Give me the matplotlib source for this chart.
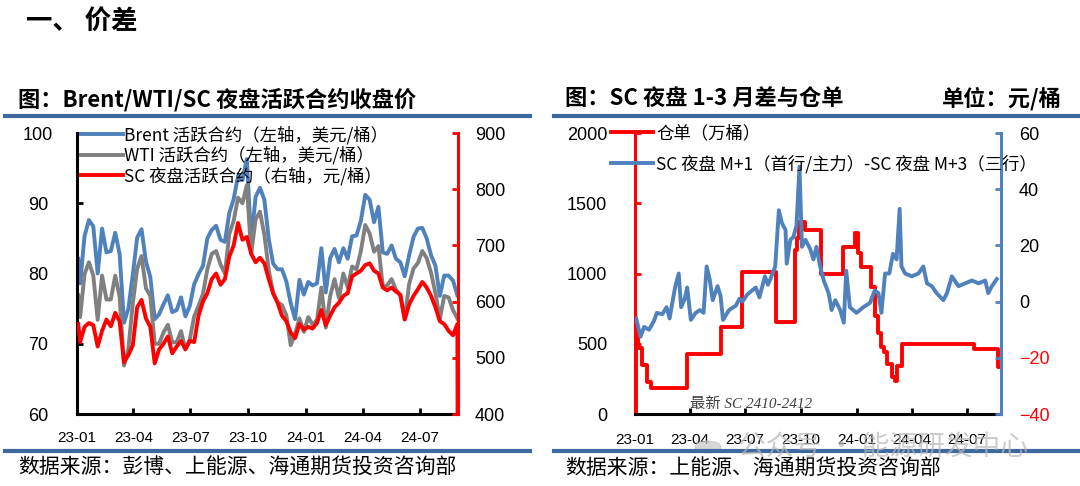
import matplotlib
matplotlib.use("Agg")
import matplotlib.pyplot as plt
import matplotlib.dates as mdates
from matplotlib.lines import Line2D
import pandas as pd

plt.rcParams['font.family'] = ['Noto Sans CJK SC', 'DejaVu Sans']

# ---------------- left chart: weekly closes ----------------
week_dates = pd.to_datetime(['2023-01-03']).append(
    pd.date_range('2023-01-06', '2024-08-30', freq='W-FRI'))

brent = [82.1,
         78.6, 85.3, 87.6, 86.7, 80.0, 86.4, 83.0, 83.2, 85.8, 82.8,
         73.0, 75.0, 79.8, 85.1, 86.3, 81.7, 79.5, 73.5, 74.2, 75.6,
         76.9, 74.5, 74.8, 76.6, 73.9, 75.4, 78.5, 79.9, 81.1, 85.0,
         86.2, 86.8, 84.8, 84.5, 88.6, 90.6, 93.9, 93.3, 96.3, 84.6,
         90.9, 92.2, 90.5, 84.9, 81.4, 80.6, 80.6, 78.9, 75.8, 73.5,
         79.1, 77.0, 78.8, 78.3, 78.6, 83.6, 77.3, 82.2, 83.5, 81.6,
         83.6, 82.1, 85.3, 85.4, 87.5, 91.2, 90.5, 87.3, 89.5, 83.0,
         82.8, 84.0, 82.1, 81.6, 79.6, 82.6, 85.2, 86.4, 86.5, 85.0,
         82.6, 81.1, 76.8, 79.7, 79.7, 79.0, 76.9]

wti = [76.9,
       73.8, 79.9, 81.6, 79.7, 73.4, 79.7, 76.3, 76.3, 79.7, 76.7,
       66.9, 69.3, 75.7, 80.7, 82.5, 77.9, 76.8, 70.0, 70.0, 71.6,
       72.7, 70.2, 70.2, 71.8, 69.2, 70.6, 73.9, 75.4, 77.1, 80.6,
       82.8, 83.2, 81.3, 80.0, 85.6, 87.5, 90.8, 90.0, 92.6, 82.8,
       87.7, 88.8, 85.5, 80.5, 77.2, 75.9, 75.5, 74.1, 69.8, 71.4,
       73.6, 71.7, 73.8, 72.7, 73.4, 78.0, 72.3, 76.8, 79.2, 76.5,
       80.0, 78.0, 81.0, 80.6, 83.2, 86.9, 85.7, 83.1, 83.9, 78.1,
       78.3, 79.2, 77.7, 76.9, 73.5, 78.5, 80.7, 81.5, 83.2, 82.2,
       80.1, 77.2, 73.5, 76.8, 76.6, 74.8, 73.6]

sc = [560,
      528, 555, 562, 558, 520, 548, 568, 556, 580, 565,
      492, 505, 522, 590, 603, 570, 555, 490, 515, 525,
      538, 508, 520, 530, 515, 530, 528, 575, 600, 615,
      640, 650, 630, 640, 680, 700, 740, 710, 715, 685,
      670, 678, 668, 640, 615, 598, 575, 565, 545, 535,
      560, 550, 555, 552, 562, 585, 558, 575, 590, 598,
      610, 615, 645, 650, 655, 665, 668, 655, 650, 625,
      620, 625, 618, 612, 568, 595, 610, 622, 635, 625,
      610, 590, 565, 560, 548, 540, 560]
sc_tail_date = '2024-08-31'
sc_tail_value = 0

# ---------------- right chart ----------------
spread_dates = pd.to_datetime([
    '2023-01-03', '2023-01-10', '2023-01-16', '2023-01-24', '2023-02-01', '2023-02-06',
    '2023-02-15', '2023-02-22', '2023-02-27', '2023-03-03', '2023-03-08', '2023-03-14',
    '2023-03-18', '2023-03-24', '2023-03-28', '2023-04-03', '2023-04-11', '2023-04-18',
    '2023-04-24', '2023-04-29', '2023-05-04', '2023-05-09', '2023-05-17', '2023-05-22',
    '2023-05-26', '2023-06-05', '2023-06-12', '2023-06-16', '2023-06-22', '2023-06-27',
    '2023-07-05', '2023-07-13', '2023-07-19', '2023-07-25', '2023-08-03', '2023-08-08',
    '2023-08-12', '2023-08-20', '2023-08-26', '2023-08-31', '2023-09-06', '2023-09-08',
    '2023-09-14', '2023-09-19', '2023-09-24', '2023-09-29', '2023-10-03', '2023-10-09',
    '2023-10-17', '2023-10-22', '2023-10-27', '2023-11-02', '2023-11-08', '2023-11-16',
    '2023-11-21', '2023-11-27', '2023-12-05', '2023-12-11', '2023-12-15', '2023-12-21',
    '2024-01-01', '2024-01-12', '2024-01-23', '2024-01-31', '2024-02-06', '2024-02-11',
    '2024-02-17', '2024-02-24', '2024-03-01', '2024-03-07', '2024-03-12', '2024-03-15',
    '2024-03-21', '2024-04-01', '2024-04-12', '2024-04-20', '2024-04-26', '2024-05-04',
    '2024-05-12', '2024-05-23', '2024-05-29', '2024-06-06', '2024-06-17', '2024-06-28',
    '2024-07-09', '2024-07-20', '2024-07-31', '2024-08-05', '2024-08-11', '2024-08-19'])
spread = [-6, -12.5, -9, -10, -7, -4,
          -4.5, -2, -6, -1, 5, 10,
          -2, 1, 5, -6.5, -4, -3,
          -4, 12.5, 8, 0.5, 5.5, 2,
          -6.5, -3, -2, -1.5, 1, 0,
          2.5, 4, 5, 1.5, 9, 6,
          8, 12.5, 32.5, 28, 25.5, 13.5,
          22, 23, 27, 48, 19.5, 22,
          18.5, 15, 19.5, 12.5, 7.5, 3,
          -3, 0.5, -3, -7.5, 11, -2,
          -4, -2, -0.5, 4, 3, -4,
          10, 10, 17, 15, 33, 12.5,
          10, 9, 10, 12.5, 6.5, 5.5,
          3, 0.5, 3, 9, 5.5, 6.5,
          7.5, 6.5, 7.5, 3, 5.5, 8]

receipt_dates = pd.to_datetime([
    '2023-01-01', '2023-01-02', '2023-01-06', '2023-01-13', '2023-01-20', '2023-01-27',
    '2023-03-27', '2023-05-23', '2023-06-27', '2023-08-21', '2023-09-21', '2023-09-25',
    '2023-09-28', '2023-10-08', '2023-11-03', '2023-12-10', '2023-12-30', '2024-01-04',
    '2024-01-09', '2024-01-25', '2024-01-31', '2024-02-05', '2024-02-10', '2024-02-16',
    '2024-02-21', '2024-02-28', '2024-03-04', '2024-03-08', '2024-03-16', '2024-07-12',
    '2024-08-21', '2024-08-24'])
receipts = [0, 610, 470, 350, 230, 185,
            430, 620, 1010, 655, 1170, 1250,
            1370, 1310, 1000, 1190, 1286, 1144,
            1048, 906, 700, 580, 480, 440,
            357, 260, 235, 340, 500, 460,
            335, 335]

blue = '#4F81BD'
head_blue = '#3D6A9E'

fig = plt.figure(figsize=(10.8, 4.86), dpi=100)
W, H = 1080, 486

def fx(px):
    return px / W

def fy(py):
    return 1 - py / H

quarter_ticks = pd.to_datetime(['2023-01-01', '2023-04-01', '2023-07-01', '2023-10-01',
                                '2024-01-01', '2024-04-01', '2024-07-01'])

# ---------- left panel ----------
ax1 = fig.add_axes([fx(77), fy(414), fx(458) - fx(77), fy(133) - fy(414)])
ax1.plot(week_dates, brent, color=blue, lw=2.8, label='Brent 活跃合约（左轴，美元/桶）')
ax1.plot(week_dates, wti, color='#808080', lw=2.8, label='WTI 活跃合约（左轴，美元/桶）')
ax2 = ax1.twinx()
sc_dates = week_dates.append(pd.to_datetime([sc_tail_date]))
ax2.plot(sc_dates, sc + [sc_tail_value], color='red', lw=2.8,
         label='SC 夜盘活跃合约（右轴，元/桶）')

ax1.set_xlim(pd.Timestamp('2023-01-01'), pd.Timestamp('2024-08-31'))
ax1.set_ylim(60, 100)
ax2.set_ylim(400, 900)
ax1.set_yticks([60, 70, 80, 90, 100])
ax2.set_yticks([400, 500, 600, 700, 800, 900])
ax1.set_xticks(quarter_ticks)
ax1.xaxis.set_major_formatter(mdates.DateFormatter('%y-%m'))

for s in ['top', 'right']:
    ax1.spines[s].set_visible(False)
for s in ['top', 'left', 'bottom']:
    ax2.spines[s].set_visible(False)
ax1.spines['left'].set_linewidth(2.2)
ax1.spines['bottom'].set_linewidth(2.2)
ax2.spines['right'].set_color('red')
ax2.spines['right'].set_linewidth(2.2)

ax1.tick_params(axis='y', direction='in', length=4, width=2, labelsize=13, pad=28,
                labelfontfamily='Liberation Sans')
ax1.tick_params(axis='x', direction='in', length=4, width=2, labelsize=11, pad=12,
                labelfontfamily='Liberation Sans')
ax2.tick_params(axis='y', direction='in', length=4, width=2, labelsize=13, pad=23,
                color='red', labelcolor='black', labelfontfamily='Liberation Sans')
for lbl in ax1.get_yticklabels() + ax2.get_yticklabels():
    lbl.set_horizontalalignment('center')

h1, l1 = ax1.get_legend_handles_labels()
h2, l2 = ax2.get_legend_handles_labels()
ax2.legend(h1 + h2, l1 + l2, loc='upper left', bbox_to_anchor=(0.0105, 1.025),
           frameon=False, fontsize=12.5, borderpad=0, borderaxespad=0,
           handlelength=2.4, handletextpad=0.1, labelspacing=0.1)

# ---------- right panel ----------
ax3 = fig.add_axes([fx(635), fy(414), fx(1001) - fx(635), fy(133) - fy(414)])
ax3.plot(receipt_dates, receipts, color='red', lw=2.8, drawstyle='steps-post',
         label='仓单（万桶）')
ax4 = ax3.twinx()
ax4.plot(spread_dates, spread, color=blue, lw=2.8,
         label='SC 夜盘 M+1（首行/主力）-SC 夜盘 M+3（三行）')

ax3.set_xlim(pd.Timestamp('2023-01-01'), pd.Timestamp('2024-08-26'))
ax3.set_ylim(0, 2000)
ax4.set_ylim(-40, 60)
ax3.set_yticks([0, 500, 1000, 1500, 2000])
ax4.set_yticks([-40, -20, 0, 20, 40, 60])
ax3.set_xticks(quarter_ticks)
ax3.xaxis.set_major_formatter(mdates.DateFormatter('%y-%m'))

for s in ['top', 'right']:
    ax3.spines[s].set_visible(False)
for s in ['top', 'left', 'bottom']:
    ax4.spines[s].set_visible(False)
ax3.spines['left'].set_color('red')
ax3.spines['left'].set_linewidth(2.2)
ax3.spines['bottom'].set_linewidth(2.2)
ax4.spines['right'].set_color(blue)
ax4.spines['right'].set_linewidth(2.2)

ax3.tick_params(axis='y', direction='in', length=4, width=2, labelsize=13, pad=20,
                color='red', labelcolor='black', labelfontfamily='Liberation Sans')
ax3.tick_params(axis='x', direction='in', length=4, width=2, labelsize=11, pad=13.5,
                labelfontfamily='Liberation Sans')
ax4.tick_params(axis='y', direction='in', length=4, width=2, labelsize=13, pad=13,
                color=blue, labelcolor='black', labelfontfamily='Liberation Sans')
for val, lbl in zip(ax4.get_yticks(), ax4.get_yticklabels()):
    if val < 0:
        lbl.set_color('red')

h3, l3 = ax3.get_legend_handles_labels()
h4, l4 = ax4.get_legend_handles_labels()
ax4.legend(h3 + h4, l3 + l4, loc='upper left', bbox_to_anchor=(-0.066, 1.03),
           frameon=False, fontsize=12.5, borderpad=0, borderaxespad=0,
           handlelength=2.4, handletextpad=0.2, labelspacing=0.7)

fig.text(fx(690), fy(404), '最新 SC 2410-2412', fontsize=11, style='italic',
         color='#404040', va='center', ha='left',
         family=['Liberation Serif', 'Noto Sans CJK SC'])

# ---------- headers & footers ----------
fig.text(fx(26), fy(22), '一、 价差', fontsize=19, fontweight='bold', va='center')
fig.text(fx(18), fy(100), '图：Brent/WTI/SC 夜盘活跃合约收盘价', fontsize=16,
         fontweight='bold', va='center')
fig.text(fx(565), fy(99), '图：SC 夜盘 1-3 月差与仓单', fontsize=16,
         fontweight='bold', va='center')
fig.text(fx(1062), fy(99), '单位：元/桶', fontsize=16, fontweight='bold',
         va='center', ha='right')

for x0, x1 in [(5, 530), (554, 1078)]:
    for yy in [116, 451]:
        fig.add_artist(Line2D([fx(x0), fx(x1)], [fy(yy), fy(yy)], color=head_blue,
                              lw=3, transform=fig.transFigure))

fig.text(fx(18), fy(468), '数据来源：彭博、上能源、海通期货投资咨询部', fontsize=15,
         va='center')
fig.text(fx(565), fy(469), '数据来源：上能源、海通期货投资咨询部', fontsize=15,
         va='center')

# watermark
fig.text(fx(738), fy(447), '公众号 · 能源研发中心', fontsize=20, color='#b8b8b8',
         alpha=0.7, va='center', zorder=20)
fig.add_artist(matplotlib.patches.Circle((fx(708), fy(447)), 0.012, color='#c8c8c8',
                                         alpha=0.7, transform=fig.transFigure))

fig.savefig('out.png', dpi=100)
